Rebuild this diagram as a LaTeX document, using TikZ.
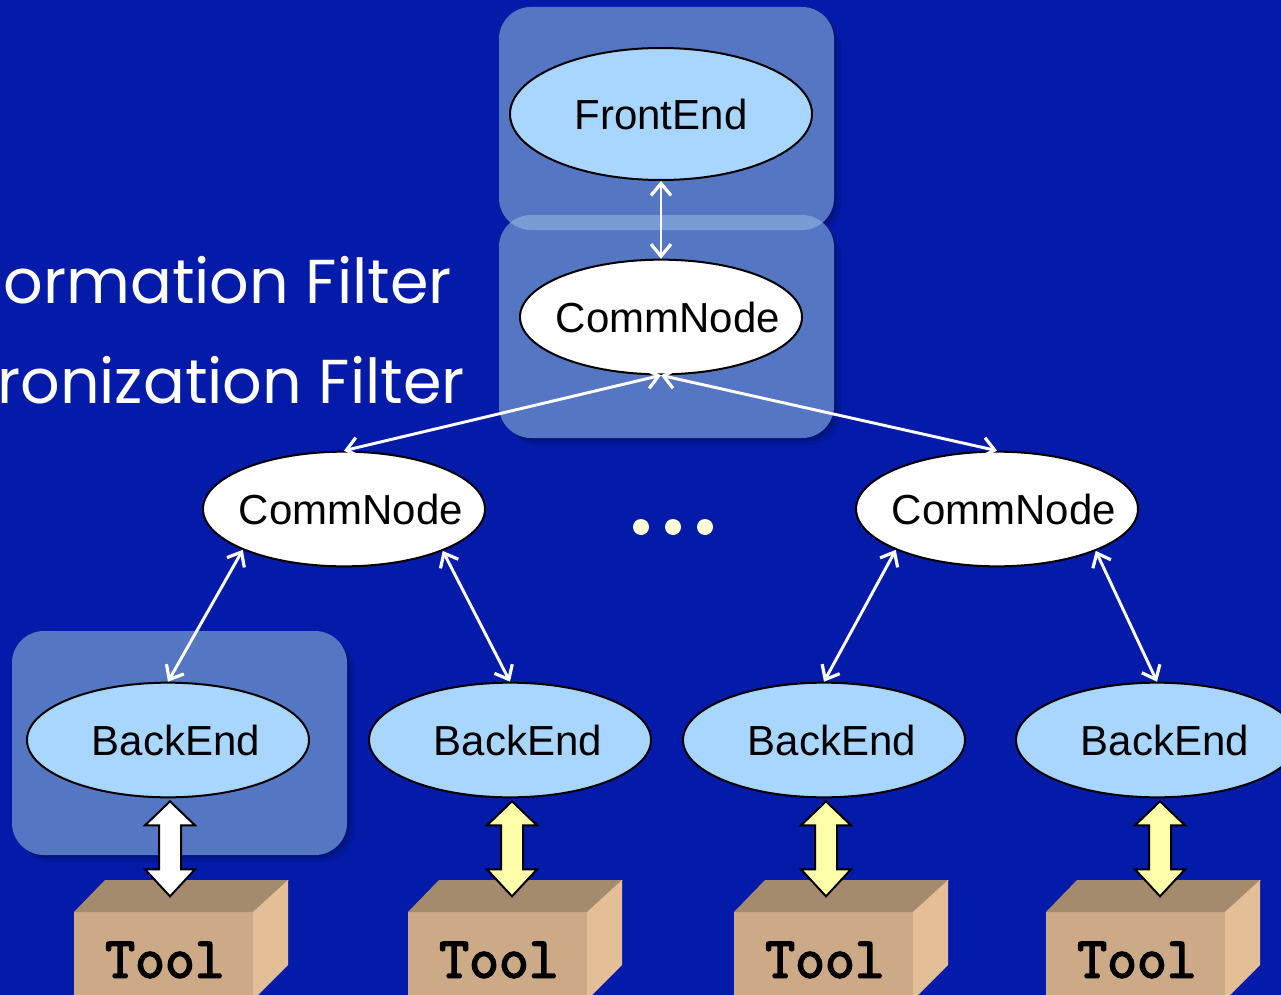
\documentclass[tikz,border=0pt]{standalone}
\usepackage{fontspec}
\setmainfont{Liberation Sans}
\newfontfamily\comicfont{Poppins}
\newfontfamily\toolfont[FakeBold=3]{Latin Modern Mono}
\usetikzlibrary{shapes.geometric,arrows.meta,calc}
\definecolor{bgblue}{RGB}{3,27,168}
\definecolor{panelc}{RGB}{84,118,195}
\definecolor{panelhi}{RGB}{122,156,212}
\definecolor{feblue}{RGB}{168,214,255}
\definecolor{tooltop}{RGB}{165,139,110}
\definecolor{toolfront}{RGB}{205,170,135}
\definecolor{toolside}{RGB}{228,190,150}
\definecolor{fatyellow}{RGB}{255,255,170}
\definecolor{dotc}{RGB}{255,255,220}
\newcommand\toolbox[2]{%
  \fill[toolfront] (#2,912) rectangle ++(179,90);
  \fill[tooltop] (#2,912) -- ++(31,-32) -- ++(184,0) -- ++(-35,32) -- cycle;
  \fill[toolside] (#2+179,912) -- ++(35,-32) -- ++(0,85) -- ++(-35,35) -- cycle;
  \node[tooltext] (#1) at (#2+91,960) {Tool};}
\newcommand\fatarr[3]{%
  \draw[#1] (#2) -- ++(25,24) -- ++(-14,0) -- ($(#3)+(11,-27)$) -- ++(14,0) -- (#3)
    -- ++(-25,-27) -- ++(14,0) -- ($(#2)+(-11,24)$) -- ++(-14,0) -- cycle;}
\newcommand\lbl[2]{\makebox[0pt]{\raisebox{-2pt}{\hspace{#1}#2}}}
\newcommand\panelshadow[4]{%
  \fill[black, opacity=0.10, rounded corners=24pt] (#1+2,#2+2) rectangle (#3+2,#4+2);
  \fill[black, opacity=0.10, rounded corners=24pt] (#1+4,#2+4) rectangle (#3+4,#4+4);
  \fill[black, opacity=0.08, rounded corners=24pt] (#1+7,#2+7) rectangle (#3+7,#4+7);}
\begin{document}
\begin{tikzpicture}[x=0.75pt,y=-0.75pt,
  panel/.style={fill=panelc, rounded corners=24pt},
  ell/.style={ellipse, draw=black, line width=1.5pt, inner sep=0pt,
    minimum width=211.5pt, minimum height=86pt, font=\fontsize{31.5}{36}\selectfont},
  fe/.style={ell, fill=feblue, minimum width=226.5pt, minimum height=99pt},
  cn/.style={ell, fill=white},
  be/.style={ell, fill=feblue},
  thin/.style={draw=white, line width=2.2pt,
    {Straight Barb[length=9pt,width=15pt,line width=2.4pt]}-{Straight Barb[length=9pt,width=15pt,line width=2.4pt]}},
  fatw/.style={draw=black, line width=1.5pt, fill=white, line join=miter},
  faty/.style={fatw, fill=fatyellow},
  tooltext/.style={font=\toolfont\fontsize{43.5}{46}\selectfont, inner sep=0pt},
  filt/.style={font=\comicfont\fontsize{46.5}{50}\selectfont, text=white, inner sep=0pt}
]
\useasboundingbox (0,0) rectangle (1281,995);
\clip (0,0) rectangle (1281,995);
\fill[bgblue] (0,0) rectangle (1281,995);

% panels
\panelshadow{499}{7}{834}{230}
\panelshadow{499}{215}{834}{438}
\panelshadow{12}{631}{347}{855}
\fill[panel] (499,7) rectangle (834,230);
\fill[panel] (499,215) rectangle (834,438);
\begin{scope}
  \clip[rounded corners=24pt] (499,7) rectangle (834,230);
  \fill[panel, fill=panelhi] (499,215) rectangle (834,438);
\end{scope}
\fill[panel] (12,631) rectangle (347,855);

% filter labels
\node[filt, anchor=base east] (f1) at (452,303) {ormation Filter};
\node[filt, anchor=base east] (f2) at (465,403) {ronization Filter};

% nodes
\node[fe] (fe) at (661,114) {\lbl{0pt}{FrontEnd}};
\node[cn] (cn0) at (661,317) {\lbl{10.5pt}{CommNode}};
\node[cn] (cnL) at (344,509) {\lbl{10.5pt}{CommNode}};
\node[cn] (cnR) at (997,509) {\lbl{10.5pt}{CommNode}};
\node[be] (be1) at (168,740) {\lbl{12pt}{BackEnd}};
\node[be] (be2) at (510,740) {\lbl{12pt}{BackEnd}};
\node[be] (be3) at (824,740) {\lbl{12pt}{BackEnd}};
\node[be] (be4) at (1157,740) {\lbl{12pt}{BackEnd}};

% dots
\fill[dotc] (641,527) circle (6pt) (673,527) circle (6pt) (705,527) circle (6pt);

% thin connectors
\draw[thin] (fe.south) -- (cn0.north);
\draw[thin] (cn0.south) -- (cnL.north);
\draw[thin] (cn0.south) -- (cnR.north);
\draw[thin] (cnL.202.5) -- (be1.north);
\draw[thin] (cnL.337.5) -- (be2.north);
\draw[thin] (cnR.202.5) -- (be3.north);
\draw[thin] (cnR.337.5) -- (be4.north);

% tools
\toolbox{t1}{74}
\toolbox{t2}{408}
\toolbox{t3}{734}
\toolbox{t4}{1046}

% fat arrows
\coordinate (a1) at ($(be1.south)+(2,3)$); \coordinate (b1) at ($(be1.south)+(2,98)$);
\coordinate (a2) at ($(be2.south)+(2,3)$); \coordinate (b2) at ($(be2.south)+(2,98)$);
\coordinate (a3) at ($(be3.south)+(2,3)$); \coordinate (b3) at ($(be3.south)+(2,98)$);
\coordinate (a4) at ($(be4.south)+(3,3)$); \coordinate (b4) at ($(be4.south)+(3,98)$);
\fatarr{fatw}{a1}{b1}
\fatarr{faty}{a2}{b2}
\fatarr{faty}{a3}{b3}
\fatarr{faty}{a4}{b4}
\end{tikzpicture}
\end{document}
